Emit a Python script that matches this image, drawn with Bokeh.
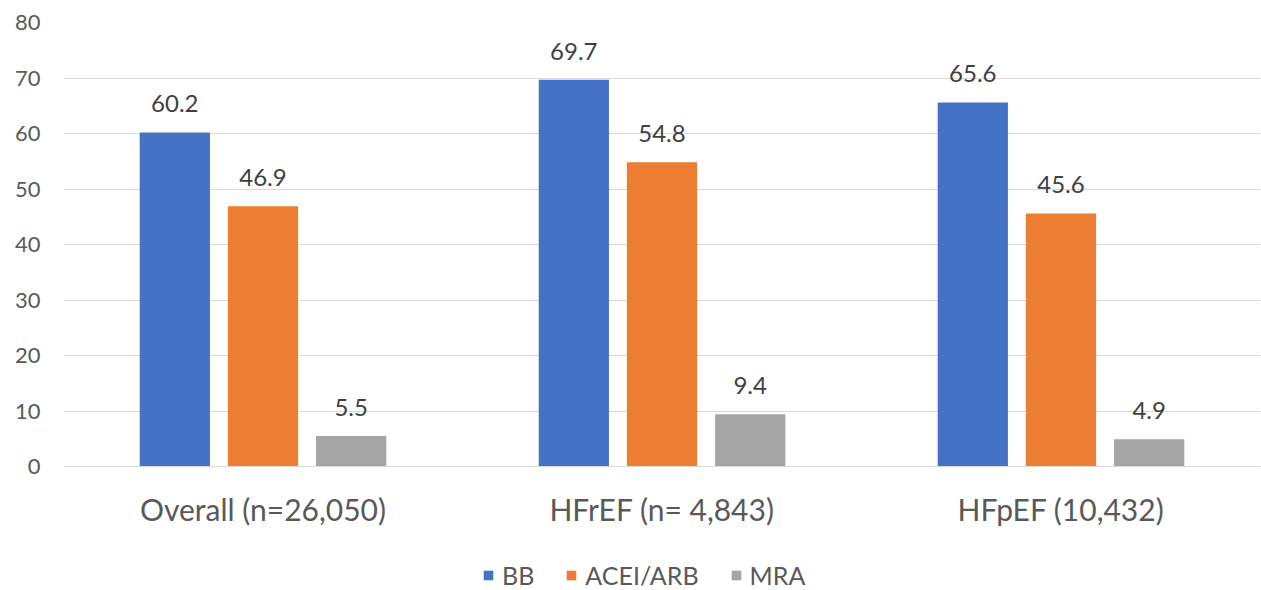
from bokeh.plotting import figure
from bokeh.models import ColumnDataSource, FactorRange, Range1d, LabelSet, Legend, LegendItem, FixedTicker
from bokeh.core.properties import value
from bokeh.transform import dodge
from bokeh.embed import file_html
from bokeh.resources import INLINE

categories = ["Overall (n=26,050)", "HFrEF (n= 4,843)", "HFpEF (10,432)"]
series_names = ["BB", "ACEI/ARB", "MRA"]
bb = [60.2, 69.7, 65.6]
acei_arb = [46.9, 54.8, 45.6]
mra = [5.5, 9.4, 4.9]
y_ticks = [0, 10, 20, 30, 40, 50, 60, 70, 80]
colors = ["#4472C4", "#ED7D31", "#A5A5A5"]
offsets = [-0.221, 0.0, 0.221]

FONT = "Lato"
TXT = "#595959"

# frame spans y=22..590; value 0 sits at y=466 (124 px above bottom)
px_per_unit = (466 - 22) / 80.0
y_low = -124 / px_per_unit

p = figure(width=1261, height=590, x_range=FactorRange(*categories, range_padding=0),
           y_range=Range1d(y_low, 80), output_backend="svg", toolbar_location=None,
           min_border_left=63, min_border_right=1, min_border_top=22, min_border_bottom=0)
p.outline_line_color = None
p.background_fill_color = "white"
p.border_fill_color = "white"

src = ColumnDataSource(dict(cat=categories, BB=bb, ACEI=acei_arb, MRA=mra,
                            BBl=[f"{v:.1f}" for v in bb],
                            ACEIl=[f"{v:.1f}" for v in acei_arb],
                            MRAl=[f"{v:.1f}" for v in mra]))

items = []
for name, field, col, off in zip(series_names, ["BB", "ACEI", "MRA"], colors, offsets):
    r = p.vbar(x=dodge("cat", off, range=p.x_range), top=field, bottom=0, width=0.176, source=src,
               fill_color=col, line_color=None)
    items.append(LegendItem(label=name, renderers=[r]))
    lbl = LabelSet(x=dodge("cat", off, range=p.x_range), y=field, text=field + "l", source=src,
                   y_offset=20, text_align="center", text_baseline="alphabetic",
                   text_font=value(FONT), text_font_size="24px", text_color="#404040")
    p.add_layout(lbl)

p.yaxis.ticker = FixedTicker(ticks=y_ticks)
p.yaxis.axis_line_color = None
p.yaxis.major_tick_line_color = None
p.yaxis.minor_tick_line_color = None
p.yaxis.major_tick_out = 0
p.yaxis.major_label_text_font = FONT
p.yaxis.major_label_text_font_size = "22px"
p.yaxis.major_label_text_color = TXT
p.yaxis.major_label_standoff = 23

p.xaxis.fixed_location = 0
p.xaxis.axis_line_color = "#D9D9D9"
p.xaxis.major_tick_line_color = None
p.xaxis.minor_tick_line_color = None
p.xaxis.major_tick_out = 0
p.xaxis.major_tick_in = 0
p.xaxis.major_label_text_font = FONT
p.xaxis.major_label_text_font_size = "30px"
p.xaxis.major_label_text_color = TXT
p.xaxis.major_label_standoff = 24

p.xgrid.grid_line_color = None
p.ygrid.grid_line_color = "#D9D9D9"
p.ygrid.grid_line_width = 1

legend = Legend(items=items, orientation="horizontal", location=(419, 0),
                label_text_font=FONT, label_text_font_size="25px", label_text_color=TXT,
                glyph_width=12, glyph_height=12, label_standoff=8, spacing=31,
                border_line_color=None, background_fill_alpha=0, margin=0, padding=0)
p.add_layout(legend)

open("out.html", "w").write(file_html(p, INLINE))
